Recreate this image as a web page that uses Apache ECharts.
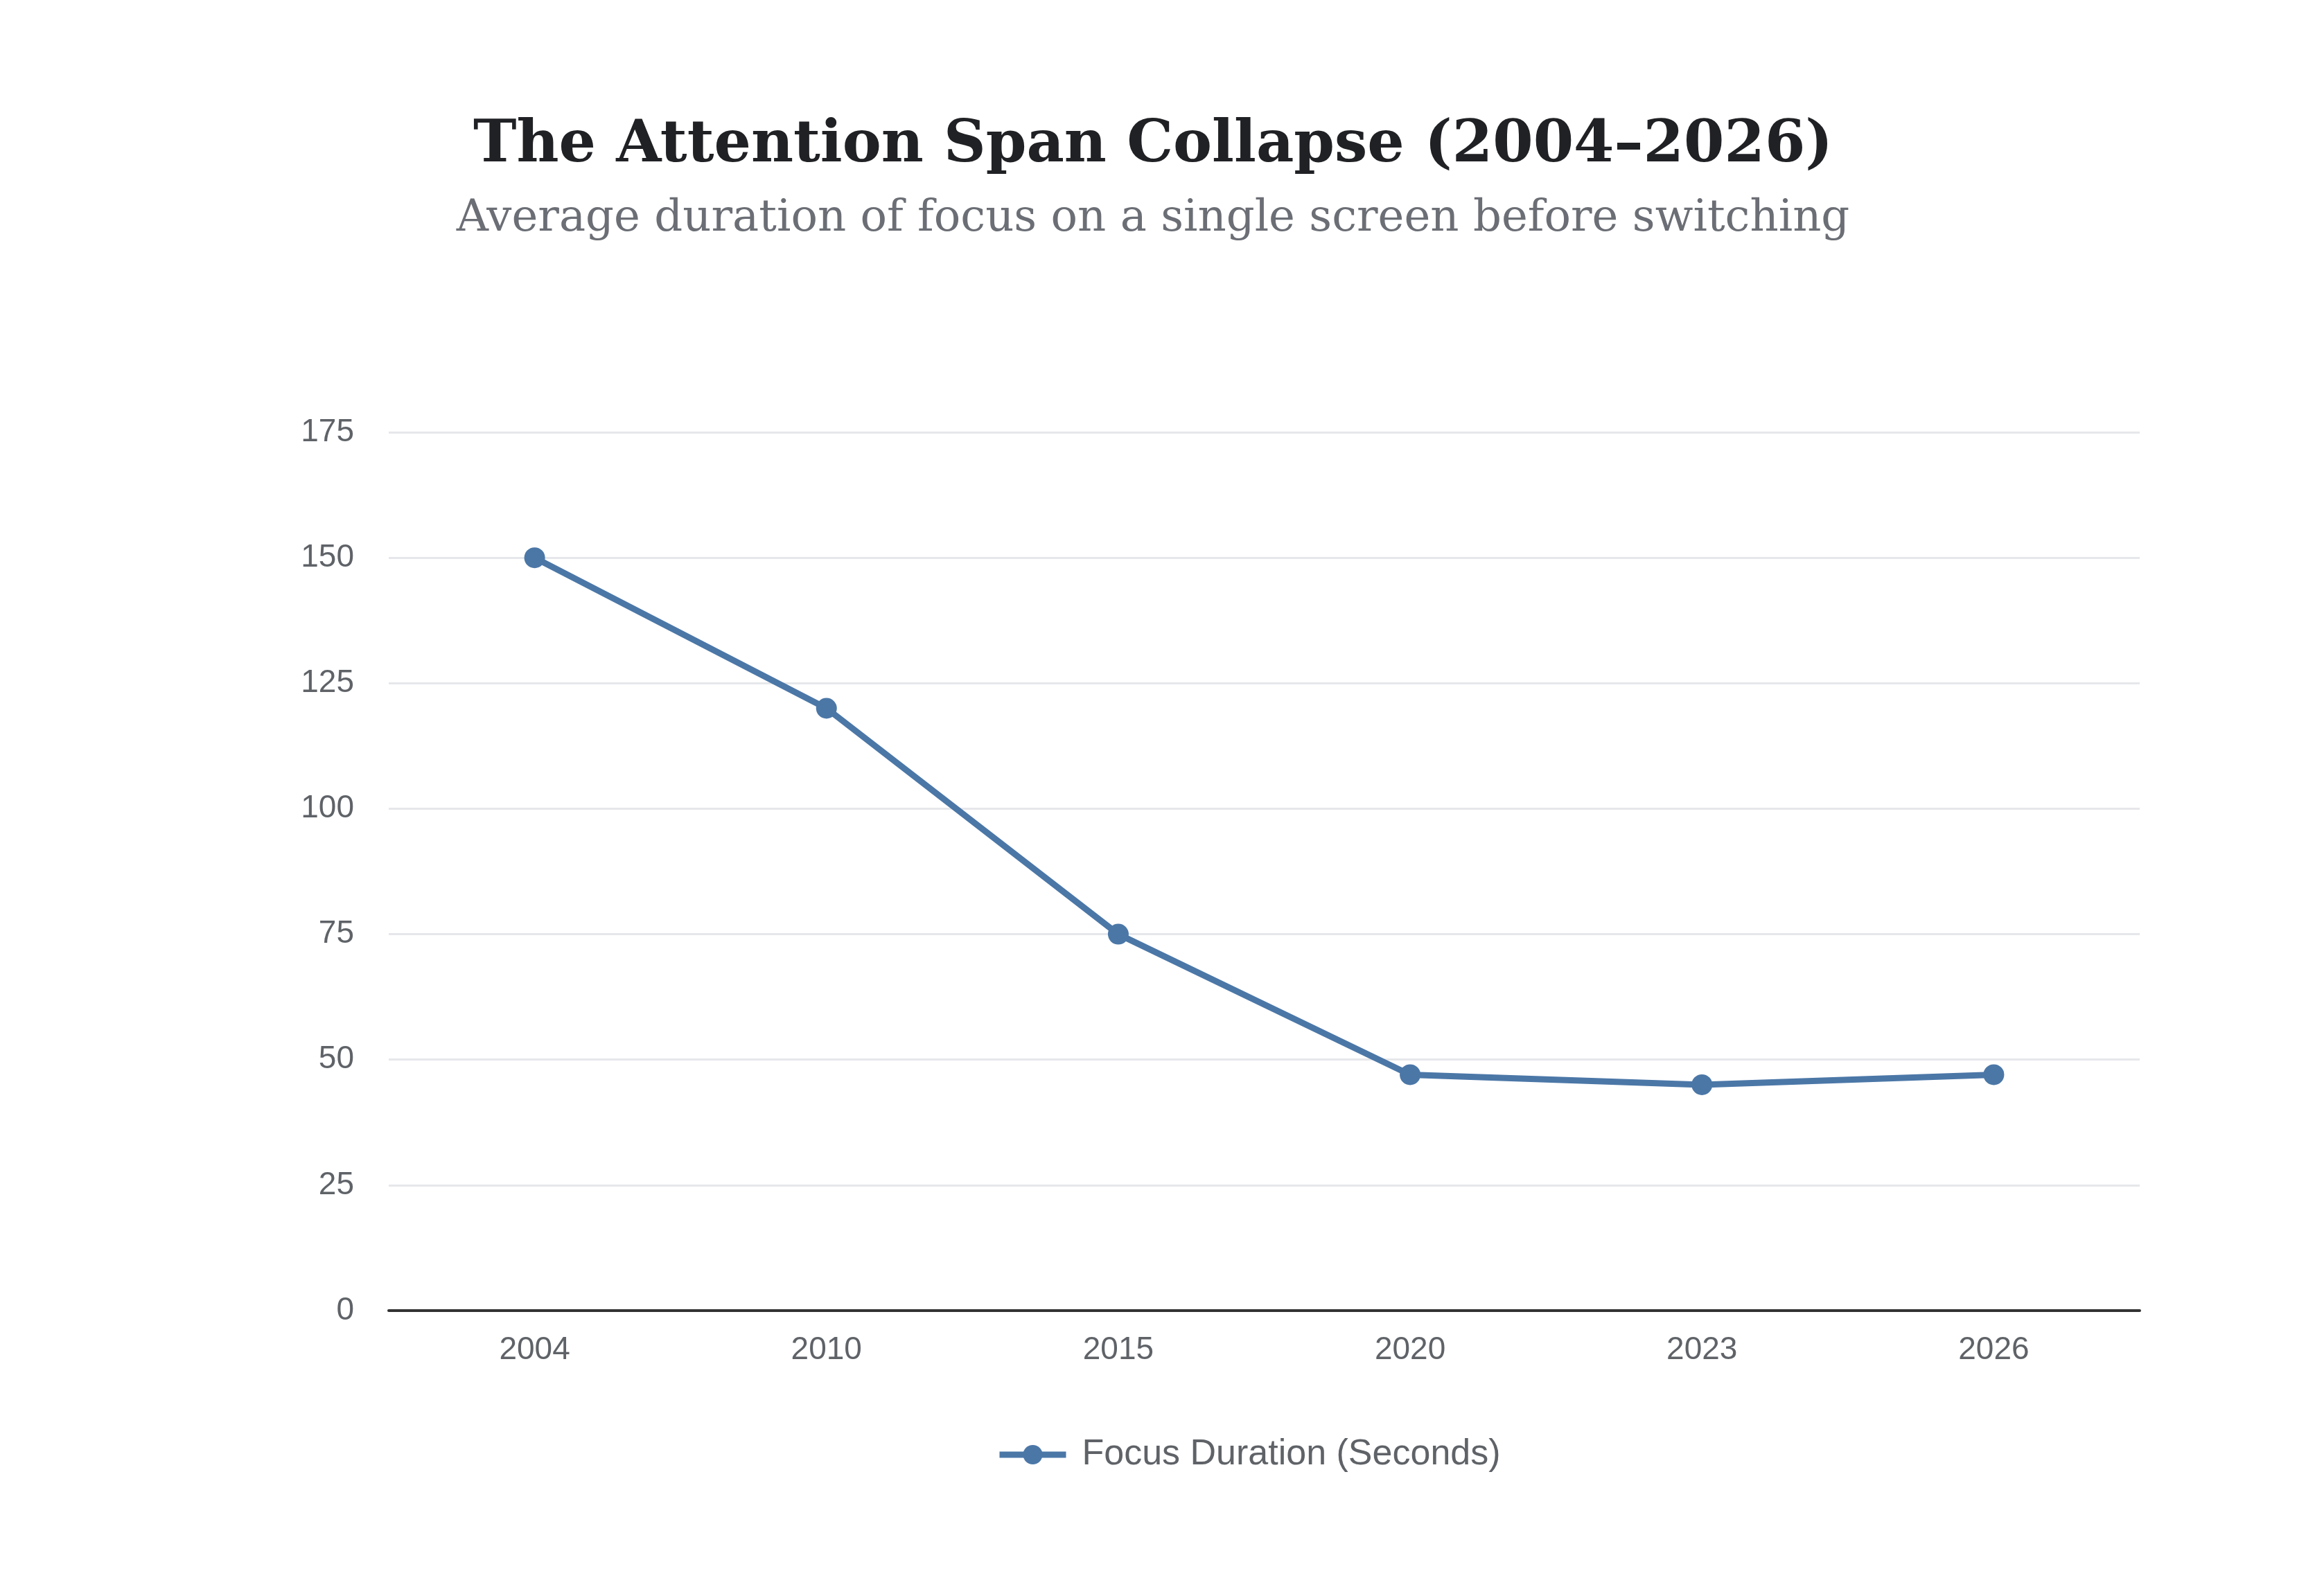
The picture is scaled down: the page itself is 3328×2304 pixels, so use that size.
<!DOCTYPE html>
<html>
<head>
<meta charset="utf-8">
<script src="https://cdn.jsdelivr.net/npm/echarts@6/dist/echarts.min.js"></script>
<style>
html,body{margin:0;padding:0;background:#ffffff;}
#chart{width:3328px;height:2304px;}
</style>
</head>
<body>
<div id="chart"></div>
<script>
const titleText = 'The Attention Span Collapse (2004–2026)';
const subtitleText = 'Average duration of focus on a single screen before switching';
const seriesName = 'Focus Duration (Seconds)';
const years = ['2004', '2010', '2015', '2020', '2023', '2026'];
const focusSeconds = [150, 120, 75, 47, 45, 47];

const chart = echarts.init(document.getElementById('chart'), null, {renderer: 'canvas'});
chart.setOption({
  backgroundColor: '#ffffff',
  animation: false,
  title: {
    text: titleText,
    subtext: subtitleText,
    left: 'center',
    top: 164,
    itemGap: 31,
    textStyle: {fontFamily: 'DejaVu Serif', fontWeight: 'bold', fontSize: 84, color: '#202124'},
    subtextStyle: {fontFamily: 'DejaVu Serif', fontSize: 64, color: '#6b6e75'}
  },
  legend: {
    bottom: 173,
    left: 1433,
    itemWidth: 96,
    itemHeight: 35,
    itemGap: 20,
    textStyle: {fontFamily: 'Liberation Sans', fontSize: 52, color: '#5f6368', padding: [0, 0, 0, 18]},
    lineStyle: {width: 9},
    data: [seriesName]
  },
  grid: {left: 561, right: 240, top: 624, bottom: 412, containLabel: false},
  xAxis: {
    type: 'category',
    data: years,
    boundaryGap: true,
    axisLine: {lineStyle: {color: '#333333', width: 4}},
    axisTick: {show: false},
    axisLabel: {fontFamily: 'Liberation Sans', fontSize: 46, color: '#5f6368', margin: 34}
  },
  yAxis: {
    type: 'value',
    min: 0,
    max: 175,
    interval: 25,
    axisLine: {show: false},
    axisTick: {show: false},
    splitLine: {lineStyle: {color: '#e6e7ea', width: 3}},
    axisLabel: {fontFamily: 'Liberation Sans', fontSize: 46, color: '#5f6368', margin: 50}
  },
  series: [{
    name: seriesName,
    type: 'line',
    data: focusSeconds,
    symbol: 'circle',
    symbolSize: 30,
    lineStyle: {color: '#4b77a7', width: 9},
    itemStyle: {color: '#4b77a7'}
  }]
});
</script>
</body>
</html>
